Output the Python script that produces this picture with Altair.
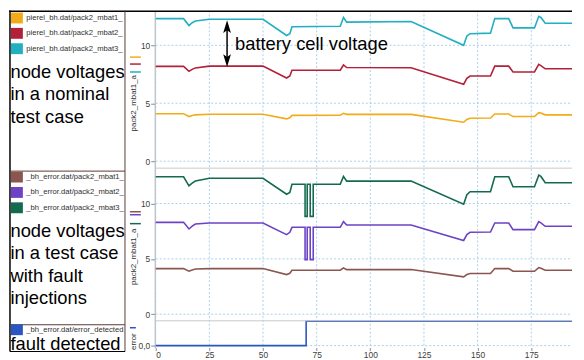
import altair as alt
import pandas as pd

# ---------------- values ----------------
# nominal test case (top panel)
T_NOM = [0, 13, 15.5, 17, 18.5, 25, 50, 61, 62.5, 63.5, 86, 87.5, 89, 119,
         143.5, 145, 146.5, 156, 158, 164.5, 166.5, 176.5, 178.5, 179.5, 181.5, 194]
NOM_MBAT1 = [4.1, 4.1, 3.85, 3.95, 4.0, 4.05, 4.05, 3.65, 3.75, 3.95, 3.97, 4.13, 4.04, 4.04,
             3.36, 3.6, 3.7, 3.72, 4.07, 4.07, 3.85, 3.85, 4.19, 4.15, 4.0, 4.0]
NOM_MBAT2 = [8.18, 8.18, 7.75, 7.92, 8.05, 8.2, 8.2, 7.18, 7.35, 7.85, 7.85, 8.3, 8.08, 8.06,
             6.64, 7.15, 7.35, 7.35, 8.2, 8.2, 7.7, 7.7, 8.35, 8.25, 7.97, 7.97]
NOM_MBAT3 = [12.3, 12.3, 11.7, 11.95, 12.1, 12.25, 12.25, 10.85, 11.0, 11.6, 11.65, 12.4, 12.0, 12.05,
             10.0, 10.8, 11.0, 11.05, 12.3, 12.3, 11.5, 11.5, 12.5, 12.4, 11.9, 11.9]

# test case with fault injections (middle panel)
T_ERR = [0, 13, 15.5, 17, 18.5, 25, 50, 61, 62.5, 63.5,
         69.6, 69.6, 70.6, 70.6, 72.0, 72.0, 73.4, 73.4,
         86, 87.5, 89, 119, 143.5, 145, 146.5, 156, 158, 164.5,
         166.5, 176.5, 178.5, 179.5, 181.5, 194]
ERR_MBAT1 = [4.12, 4.12, 3.88, 4.0, 4.08, 4.12, 4.12, 3.58, 3.7, 3.97,
             3.97, 3.97, 3.97, 3.97, 3.97, 3.97, 3.97, 3.97,
             3.97, 4.18, 4.03, 4.03, 3.37, 3.58, 3.67, 3.67, 4.12, 4.12,
             3.88, 3.88, 4.21, 4.15, 3.97, 3.97]
ERR_MBAT2 = [8.3, 8.3, 7.7, 7.95, 8.15, 8.24, 8.24, 7.19, 7.4, 7.85,
             7.85, 4.93, 4.93, 7.85, 7.85, 4.93, 4.93, 7.85,
             7.85, 8.36, 8.06, 8.06, 6.66, 7.2, 7.4, 7.42, 8.24, 8.24,
             7.64, 7.64, 8.36, 8.25, 7.94, 7.94]
ERR_MBAT3 = [12.42, 12.42, 11.6, 11.85, 12.03, 12.28, 12.28, 10.84, 11.0, 11.74,
             11.74, 8.84, 8.84, 11.74, 11.74, 8.84, 8.84, 11.74,
             11.74, 12.45, 12.03, 12.03, 9.94, 10.8, 11.07, 11.07, 12.42, 12.42,
             11.52, 11.52, 12.57, 12.45, 11.88, 11.88]

# fault detection flag (bottom panel)
T_DET = [0, 70.1, 70.1, 194]
DETECTED = [0, 0, 1, 1]

TOP_LEGEND = ["pierel_bh.dat/pack2_mbat1_", "pierel_bh.dat/pack2_mbat2_", "pierel_bh.dat/pack2_mbat3_"]
MID_LEGEND = ["_bh_error.dat/pack2_mbat1_", "_bh_error.dat/pack2_mbat2_", "_bh_error.dat/pack2_mbat3_"]
BOT_LEGEND = ["_bh_error.dat/error_detected"]
TOP_COLORS = ["#f2ac1a", "#b3203a", "#22afc0"]
MID_COLORS = ["#8b5650", "#6c42c6", "#146a50"]
BOT_COLORS = ["#2b56c2"]

TOP_TEXT = ["node voltages", "in a nominal", "test case"]
MID_TEXT = ["node voltages", "in a  test case", "with fault", "injections"]
BOT_TEXT = ["fault detected"]
ANNOTATION = ["battery cell voltage"]

X_TICKS = [0, 25, 50, 75, 100, 125, 150, 175]
Y_TICKS = [0, 5, 10]
BOT_TICKS = [0]
Y_TITLE = "pack2_mbat1_a"
BOT_TITLE = "error"

# ---------------- layout ----------------
FONT = "Liberation Sans"
W, H = 568, 340
X0 = 148          # pixel where the time axis starts
BOX_R = 117       # right edge of the left description box
GRID = "#a9cfea"
INK = "#5a3a34"

xs = alt.Scale(domain=[0, 194], range=[X0, W], nice=False, zero=False)
top_ys = alt.Scale(domain=[-0.6, 13.0], range=[159, 0], nice=False, zero=False)
mid_ys = alt.Scale(domain=[-0.6, 13.2], range=[313, 159], nice=False, zero=False)
bot_ys = alt.Scale(domain=[-0.08, 1.02], range=[340, 313], nice=False, zero=False)

ALL_NAMES = TOP_LEGEND + MID_LEGEND + BOT_LEGEND
ALL_COLORS = TOP_COLORS + MID_COLORS + BOT_COLORS
color = alt.Color("s:N", scale=alt.Scale(domain=ALL_NAMES, range=ALL_COLORS), legend=None)

x_axis = alt.Axis(values=X_TICKS, grid=False, domain=False, tickSize=3, tickColor="#8a8a8a",
                  labelPadding=0, labelFont=FONT, labelFontSize=8.5, labelColor="#404040",
                  title=None)


def long_frame(t, names, series):
    rows = []
    for name, vals in zip(names, series):
        for i, (tt, vv) in enumerate(zip(t, vals)):
            rows.append({"t": tt, "v": vv, "s": name, "i": i})
    return pd.DataFrame(rows)


def yaxis(ticks, title, title_y, expr=None):
    kw = dict(orient="left", offset=-(X0 - 1), values=ticks, title=title, grid=False,
              domainColor="#a8a8a8", tickColor="#8a8a8a", tickSize=4, labelPadding=1,
              labelFont=FONT, labelFontSize=8.5, labelColor="#404040",
              titleFont=FONT, titleFontSize=8, titleFontWeight="normal", titleColor="#303030",
              titleX=-17.5, titleY=title_y, titleAngle=270, titleBaseline="bottom",
              titleAlign="center")
    if expr:
        kw["labelExpr"] = expr
    return alt.Axis(**kw)


def panel(df, ys, ticks, axis):
    grid = alt.Chart(pd.DataFrame({"v": ticks})).mark_rule(
        color=GRID, strokeDash=[2, 2], strokeWidth=1).encode(
        y=alt.Y("v:Q", scale=ys, axis=axis), x=alt.value(X0), x2=alt.value(W))
    lines = alt.Chart(df).mark_line(strokeWidth=1.6).encode(
        x=alt.X("t:Q", scale=xs, axis=x_axis),
        y=alt.Y("v:Q", scale=ys, axis=axis),
        color=color, detail="s:N", order="i:Q")
    return alt.layer(grid, lines)


top_df = long_frame(T_NOM, TOP_LEGEND, [NOM_MBAT1, NOM_MBAT2, NOM_MBAT3])
mid_df = long_frame(T_ERR, MID_LEGEND, [ERR_MBAT1, ERR_MBAT2, ERR_MBAT3])
bot_df = long_frame(T_DET, BOT_LEGEND, [DETECTED])

top = panel(top_df, top_ys, Y_TICKS, yaxis(Y_TICKS, Y_TITLE, 93))
mid = panel(mid_df, mid_ys, Y_TICKS, yaxis(Y_TICKS, Y_TITLE, 248))
bot = panel(bot_df, bot_ys, BOT_TICKS,
            yaxis(BOT_TICKS, BOT_TITLE, 333.5, "replace(format(datum.value, '.1f'), '.', ',')"))

# vertical dotted grid lines through all panels
vgrid = alt.Chart(pd.DataFrame({"t": X_TICKS})).mark_rule(
    color=GRID, strokeDash=[2, 2], strokeWidth=1).encode(
    x=alt.X("t:Q", scale=xs, axis=x_axis), y=alt.value(0), y2=alt.value(H))

# decorative rules: frame of the description box, panel dividers, legend stubs on axes
rules = pd.DataFrame([
    dict(x=0, x2=W, y=0.75, y2=0.75, c="#000000", w=1.5),
    dict(x=1, x2=1, y=0, y2=344, c="#000000", w=1.5),
    dict(x=BOX_R, x2=BOX_R, y=0, y2=344, c=INK, w=1),
    dict(x=1, x2=BOX_R, y=162, y2=162, c=INK, w=1),
    dict(x=1, x2=BOX_R, y=317, y2=317, c=INK, w=1),
    dict(x=1, x2=BOX_R, y=344, y2=344, c="#000000", w=1.2),
    dict(x=X0 - 1, x2=W, y=159, y2=159, c="#c9c9c9", w=1),
    dict(x=X0 - 1, x2=W, y=313, y2=313, c="#c9c9c9", w=1),
    dict(x=122, x2=133, y=47, y2=47, c=TOP_COLORS[0], w=1.5),
    dict(x=122, x2=133, y=54, y2=54, c=TOP_COLORS[1], w=1.5),
    dict(x=122, x2=133, y=62, y2=62, c=TOP_COLORS[2], w=1.5),
    dict(x=122, x2=133, y=203, y2=203, c=MID_COLORS[0], w=1.5),
    dict(x=122, x2=133, y=206, y2=206, c=MID_COLORS[1], w=1.5),
    dict(x=122, x2=133, y=215, y2=215, c=MID_COLORS[2], w=1.5),
    dict(x=122, x2=128, y=320, y2=320, c=BOT_COLORS[0], w=1.5),
    dict(x=220, x2=220, y=14, y2=52, c="#000000", w=1.5),
])
rule_layer = alt.Chart(rules).mark_rule().encode(
    x=alt.X("x:Q", scale=None, axis=None), x2="x2:Q",
    y=alt.Y("y:Q", scale=None, axis=None), y2="y2:Q",
    stroke=alt.Stroke("c:N", scale=None), strokeWidth=alt.StrokeWidth("w:Q", scale=None))

# legend rows inside the description box
leg_rows = []
for names, y0 in ((TOP_LEGEND, 7.5), (MID_LEGEND, 168), (BOT_LEGEND, 322)):
    for k, name in enumerate(names):
        yc = y0 + k * 15.5
        leg_rows.append(dict(s=name, x=2, x2=14, y=yc - 5.5, y2=yc + 5.5, tx=17.5, ty=yc))
leg_df = pd.DataFrame(leg_rows)
leg_sq = alt.Chart(leg_df).mark_rect().encode(
    x=alt.X("x:Q", scale=None, axis=None), x2="x2:Q",
    y=alt.Y("y:Q", scale=None, axis=None), y2="y2:Q", color=color)
leg_tx = alt.Chart(leg_df).mark_text(
    font=FONT, fontSize=7.7, align="left", baseline="middle", color="#303030",
    limit=BOX_R - 18, ellipsis="").encode(
    x=alt.X("tx:Q", scale=None, axis=None), y=alt.Y("ty:Q", scale=None, axis=None), text="s:N")

# large description text
big_rows = []
for lines, y0 in ((TOP_TEXT, 68), (MID_TEXT, 228), (BOT_TEXT, 342.5)):
    for k, line in enumerate(lines):
        big_rows.append(dict(txt=line, px=1.5, py=y0 + k * 22.7))
big_df = pd.DataFrame(big_rows)
big_tx = alt.Chart(big_df).mark_text(
    font=FONT, fontSize=18.5, align="left", baseline="alphabetic", color="#000000").encode(
    x=alt.X("px:Q", scale=None, axis=None), y=alt.Y("py:Q", scale=None, axis=None),
    text="txt:N")

# double arrow + annotation
heads = pd.DataFrame([
    dict(px=220, py=16.2, shp="M0,-1L-0.6,1L0,0.55L0.6,1Z"),
    dict(px=220, py=50.5, shp="M0,1L-0.6,-1L0,-0.55L0.6,-1Z"),
])
head_layer = alt.Chart(heads).mark_point(filled=True, size=169, color="#000000", opacity=1).encode(
    x=alt.X("px:Q", scale=None, axis=None), y=alt.Y("py:Q", scale=None, axis=None),
    shape=alt.Shape("shp:N", scale=None))
ann_tx = alt.Chart(pd.DataFrame({"txt": ANNOTATION, "px": [228], "py": [40.3]})).mark_text(
    font=FONT, fontSize=18.5, align="left", baseline="alphabetic", color="#000000").encode(
    x=alt.X("px:Q", scale=None, axis=None), y=alt.Y("py:Q", scale=None, axis=None), text="txt:N")

chart = alt.layer(
    vgrid, top, mid, bot, rule_layer, leg_sq, leg_tx, big_tx, head_layer, ann_tx
).resolve_scale(y="independent").properties(
    width=W, height=H, padding=0, background="white"
).configure_view(stroke=None)

chart.save("out.html", embed_options={"renderer": "svg", "actions": False})
